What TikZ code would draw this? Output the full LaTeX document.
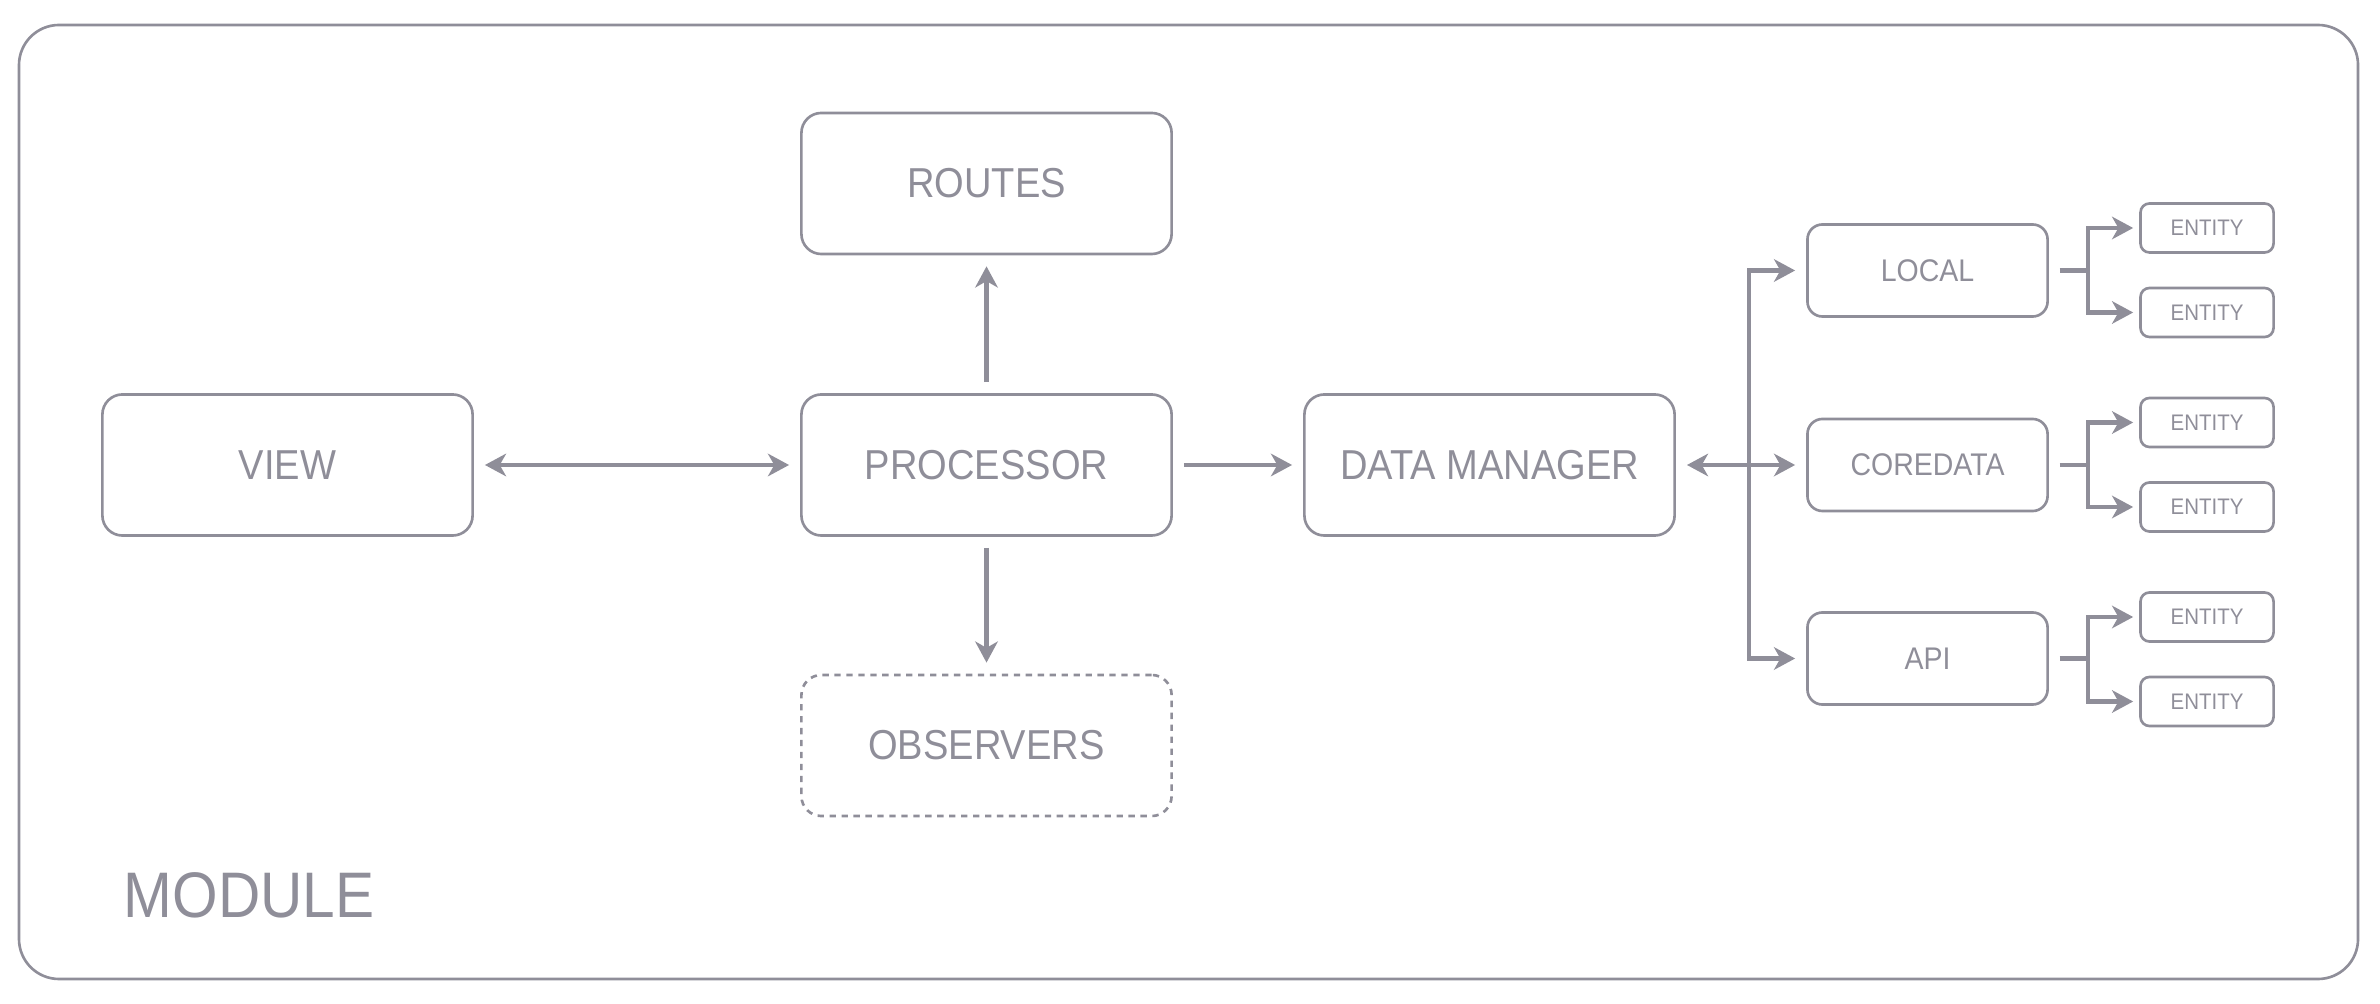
\documentclass[tikz,border=0pt]{standalone}
\usepackage{fontspec}
\setmainfont{Liberation Sans}[FakeStretch=0.91]
\usetikzlibrary{arrows.meta}
\definecolor{slate}{RGB}{143,142,153}

\begin{document}
\begin{tikzpicture}[x = 0.01cm, y = -0.01cm, color=slate,
        every node/.style={inner sep=0pt},
        >={Stealth[length=6pt, width=6.4pt, inset=1.8pt]}
]
\tikzstyle{block}= [draw, line width=0.75pt, rounded corners=0.2cm, minimum width=3.70cm, minimum height=1.41cm, font=\fontsize{11.9}{13}\selectfont]
\tikzstyle{store}= [draw, line width=0.75pt, rounded corners=0.15cm, minimum width=2.40cm, minimum height=0.92cm, font=\fontsize{8.9}{10}\selectfont]
\tikzstyle{entity}= [draw, line width=0.75pt, rounded corners=0.09cm, minimum width=1.33cm, minimum height=0.49cm, font=\fontsize{6.4}{8}\selectfont]
\tikzstyle{link}= [->, line width=1.2pt, shorten <=0.11cm, shorten >=0.11cm]
    \useasboundingbox (0,0) rectangle (2380,1004);
    \draw[line width=0.75pt, rounded corners=0.4cm] (19,25) rectangle (2358,979);
    \node[anchor=base west, font=\fontsize{18.3}{20}\selectfont] (module) at (123,917) {MODULE};

    \node[block] (view) at (287.5,465) {VIEW};
    \node[block] (routes) at (986.5,183.5) {ROUTES};
    \node[block] (proc) at (986.5,465) {PROCESSOR};
    \node[block, dash pattern=on 1.8pt off 1.6pt] (obs) at (986.5,745.5) {OBSERVERS};
    \node[block] (dm) at (1489.5,465) {DATA MANAGER};

    \node[store] (local) at (1927.5,270.5) {LOCAL};
    \node[store] (core) at (1927.5,465) {COREDATA};
    \node[store] (api) at (1927.5,658.5) {API};

    \node[entity] (e1) at (2207,228) {ENTITY};
    \node[entity] (e2) at (2207,312.5) {ENTITY};
    \node[entity] (e3) at (2207,422.5) {ENTITY};
    \node[entity] (e4) at (2207,507) {ENTITY};
    \node[entity] (e5) at (2207,617) {ENTITY};
    \node[entity] (e6) at (2207,701.5) {ENTITY};
    \coordinate (bus) at (1749,465);

    \draw[link, <->] (view) -- (proc);
    \draw[link] (proc) -- (routes);
    \draw[link] (proc) -- (obs);
    \draw[link] (proc) -- (dm);
    \draw[link, <->] (dm) -- (core);
    \draw[link, shorten <=0pt] (bus) |- (local);
    \draw[link, shorten <=0pt] (bus) |- (api);

    \draw[link, shorten >=0.06cm] (local.east) -- ++(39,0) |- (e1);
    \draw[link, shorten >=0.06cm] (local.east) -- ++(39,0) |- (e2);
    \draw[link, shorten >=0.06cm] (core.east) -- ++(39,0) |- (e3);
    \draw[link, shorten >=0.06cm] (core.east) -- ++(39,0) |- (e4);
    \draw[link, shorten >=0.06cm] (api.east) -- ++(39,0) |- (e5);
    \draw[link, shorten >=0.06cm] (api.east) -- ++(39,0) |- (e6);

\end{tikzpicture}
\end{document}
